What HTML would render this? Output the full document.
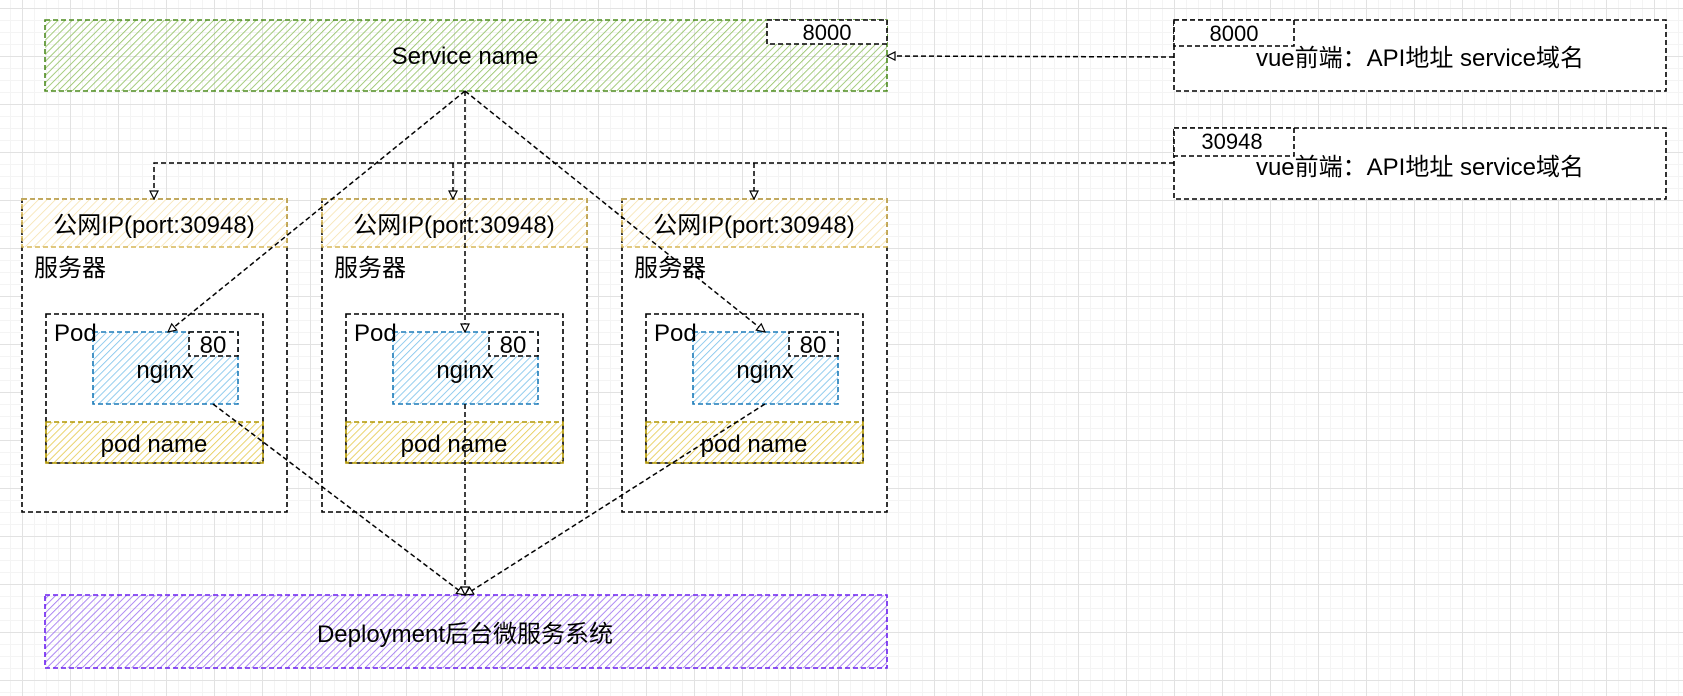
<!DOCTYPE html>
<html><head><meta charset="utf-8"><style>
html,body{margin:0;padding:0;}
body{width:1683px;height:696px;overflow:hidden;background:#fff;
background-image:linear-gradient(#e2e2e2 1px,transparent 1px),linear-gradient(90deg,#e2e2e2 1px,transparent 1px),linear-gradient(#f4f4f4 1px,transparent 1px),linear-gradient(90deg,#f4f4f4 1px,transparent 1px);
background-size:48px 48px,48px 48px,12px 12px,12px 12px;background-position:22px 8px,22px 8px,22px 8px,22px 8px;}
svg{position:absolute;left:0;top:0;}
text{font-family:"Liberation Sans","Noto Sans CJK SC",sans-serif;fill:#000;}
</style></head><body>
<svg width="1683" height="696" viewBox="0 0 1683 696">
<defs>
<pattern id="hg" width="5" height="5" patternUnits="userSpaceOnUse" patternTransform="rotate(45)"><line x1="0" y1="0" x2="0" y2="5" stroke="#8fbf5e" stroke-width="1.6"/></pattern>
<pattern id="hy" width="6" height="6" patternUnits="userSpaceOnUse" patternTransform="rotate(45)"><line x1="0" y1="0" x2="0" y2="6" stroke="#f5dfa5" stroke-width="1.4"/></pattern>
<pattern id="hy2" width="5" height="5" patternUnits="userSpaceOnUse" patternTransform="rotate(45)"><line x1="0" y1="0" x2="0" y2="5" stroke="#e3c640" stroke-width="1.5"/></pattern>
<pattern id="hb" width="5" height="5" patternUnits="userSpaceOnUse" patternTransform="rotate(45)"><line x1="0" y1="0" x2="0" y2="5" stroke="#72bde9" stroke-width="1.5"/></pattern>
<pattern id="hp" width="5" height="5" patternUnits="userSpaceOnUse" patternTransform="rotate(45)"><line x1="0" y1="0" x2="0" y2="5" stroke="#9a6cf0" stroke-width="1.6"/></pattern>
<marker id="ar" markerWidth="10" markerHeight="10" refX="9" refY="5" orient="auto" markerUnits="userSpaceOnUse"><path d="M1,1 L9,5 L1,9 Z" fill="#fff" stroke="#000" stroke-width="1.2"/></marker>
</defs>
<g fill="none" stroke-dasharray="5,3" stroke-width="1.6">
<rect x="45" y="20" width="842" height="71" fill="url(#hg)" stroke="#4d8b1f"/>
<rect x="767" y="20" width="120" height="24" fill="#fff" stroke="#000"/>
<rect x="1174" y="20" width="492" height="71" fill="#fff" stroke="#000"/>
<rect x="1174" y="20" width="120" height="26" fill="#fff" stroke="#000"/>
<rect x="1174" y="128" width="492" height="71" fill="#fff" stroke="#000"/>
<rect x="1174" y="128" width="120" height="28" fill="#fff" stroke="#000"/>
<g id="s1">
<rect x="22" y="199" width="265" height="313" fill="#fff" stroke="#000"/>
<rect x="22" y="199" width="265" height="48" fill="url(#hy)" stroke="#d6b656"/>
<rect x="46" y="314" width="217" height="149" fill="#fff" stroke="#000"/>
<rect x="46" y="422" width="217" height="41" fill="url(#hy2)" stroke="#b09500"/>
<rect x="93" y="332" width="145" height="72" fill="url(#hb)" stroke="#1a7ab8"/>
<rect x="189" y="332" width="49" height="24" fill="#fff" stroke="#000"/>
</g>
<use href="#s1" x="300"/>
<use href="#s1" x="600"/>
<rect x="45" y="595" width="842" height="73" fill="url(#hp)" stroke="#6a1ef0"/>
<g stroke="#000" stroke-width="1.5" stroke-dasharray="5,3">
<line x1="1174" y1="57" x2="887" y2="56" marker-end="url(#ar)"/>
<polyline points="1174,163 154,163 154,199" marker-end="url(#ar)"/>
<line x1="453" y1="163" x2="453" y2="199" marker-end="url(#ar)"/>
<line x1="754" y1="163" x2="754" y2="199" marker-end="url(#ar)"/>
<line x1="465" y1="91" x2="168" y2="332" marker-end="url(#ar)"/>
<line x1="465" y1="91" x2="465" y2="332" marker-end="url(#ar)"/>
<line x1="465" y1="91" x2="765" y2="332" marker-end="url(#ar)"/>
<line x1="213" y1="404" x2="465" y2="595" marker-end="url(#ar)"/>
<line x1="465" y1="404" x2="465" y2="595" marker-end="url(#ar)"/>
<line x1="765" y1="404" x2="465" y2="595" marker-end="url(#ar)"/>
</g>
</g>
<g font-size="24">
<text x="465" y="64" text-anchor="middle">Service name</text>
<text x="827" y="40" text-anchor="middle" font-size="22">8000</text>
<text x="1234" y="41" text-anchor="middle" font-size="22">8000</text>
<text x="1232" y="149" text-anchor="middle" font-size="22">30948</text>
<text x="1420" y="66" text-anchor="middle">vue前端：API地址 service域名</text>
<text x="1420" y="175" text-anchor="middle">vue前端：API地址 service域名</text>
<text x="465" y="642" text-anchor="middle">Deployment后台微服务系统</text>
</g>
<g font-size="24" id="t1">
<text x="154" y="233" text-anchor="middle">公网IP(port:30948)</text>
<text x="34" y="276">服务器</text>
<text x="54" y="341">Pod</text>
<text x="165" y="378" text-anchor="middle">nginx</text>
<text x="213" y="353" text-anchor="middle">80</text>
<text x="154" y="452" text-anchor="middle">pod name</text>
</g>
<use href="#t1" x="300"/>
<use href="#t1" x="600"/>
</svg>
</body></html>
